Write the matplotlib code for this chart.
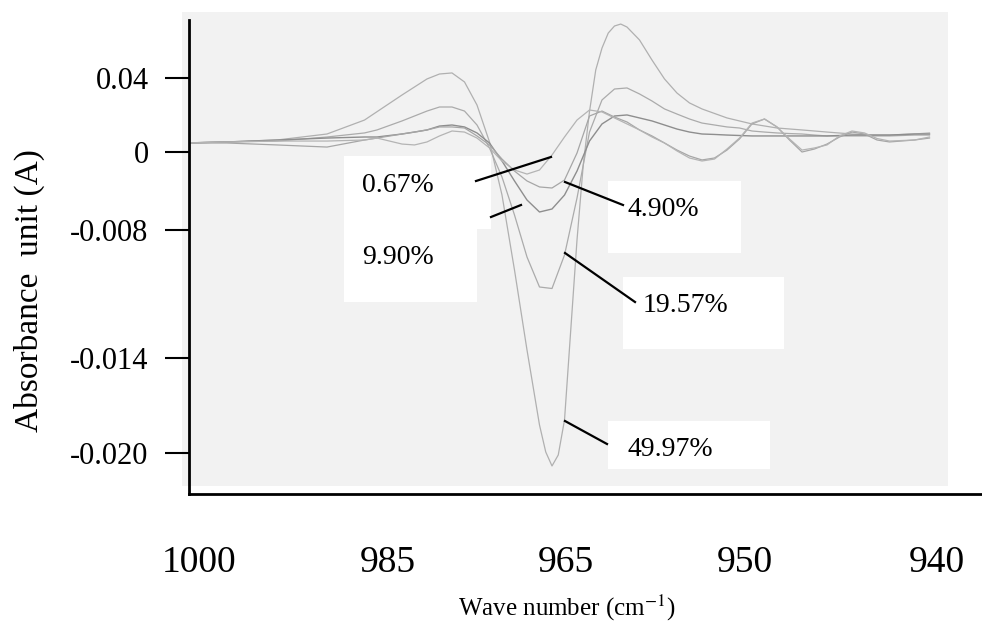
import numpy as np
import matplotlib.pyplot as plt
from matplotlib.patches import Rectangle
from matplotlib.lines import Line2D

plt.rcParams['font.family'] = 'Liberation Serif'
plt.rcParams['mathtext.fontset'] = 'stix'

# wave number (cm-1) for the 49.97% trace (denser around the big dip)
wn_big = [1001.5, 998, 994, 990, 987, 984, 982, 981, 980, 979, 978, 977, 976, 975,
          974, 973, 972.5, 972, 971.5, 971, 970.5, 970, 969.5, 969, 968.5, 968,
          967.5, 967, 966.5, 966, 965, 964, 963, 962, 961, 960, 958, 956, 954, 952,
          950, 948, 946.5, 945, 943, 941.8]
# absorbance, in 1e-3 A
a_4997 = [0.6, 0.67, 0.8, 1.2, 2.13, 3.8, 4.87, 5.2, 5.27, 4.67, 3.13, 0.67, -2.87, -7.87,
          -13.2, -18.2, -20.0, -20.93, -20.2, -17.87, -11.87, -5.87, -0.87, 2.7, 5.47, 6.93,
          7.93, 8.4, 8.53, 8.33, 7.47, 6.13, 4.87, 3.93, 3.27, 2.87, 2.27, 1.87, 1.6, 1.47,
          1.33, 1.2, 1.13, 1.13, 1.2, 1.27]

# common wave number grid for the other traces
wn = [1001.5, 998, 994, 990, 987, 986, 984, 983, 982, 981, 980, 979, 978, 977, 976, 975,
      974, 973, 972, 971, 970, 969, 968, 967, 966, 965, 964, 963, 962, 961, 960, 959,
      958, 957, 956, 955, 954, 953, 952, 951, 950, 949, 948, 947, 946, 945, 943, 941.8]
a_1957 = [0.6, 0.67, 0.73, 1.0, 1.27, 1.47, 2.07, 2.4, 2.73, 3.0, 3.0, 2.73, 1.8, 0.27,
          -1.67, -4.2, -7.0, -9.0, -9.1, -6.87, -3.07, 1.33, 3.47, 4.2, 4.27, 3.87, 3.4,
          2.87, 2.53, 2.2, 1.93, 1.8, 1.67, 1.6, 1.4, 1.33, 1.27, 1.23, 1.2, 1.13, 1.07,
          1.07, 1.07, 1.07, 1.07, 1.07, 1.13, 1.13]
a_990 = [0.6, 0.67, 0.8, 0.93, 1.0, 1.0, 1.2, 1.33, 1.47, 1.73, 1.8, 1.67, 1.27, 0.6,
         -0.6, -1.93, -3.2, -4.0, -3.8, -2.87, -1.27, 0.73, 1.87, 2.4, 2.47, 2.27, 2.07,
         1.8, 1.53, 1.33, 1.2, 1.17, 1.13, 1.1, 1.07, 1.07, 1.07, 1.07, 1.07, 1.07, 1.07,
         1.1, 1.13, 1.13, 1.13, 1.13, 1.2, 1.2]
a_490 = [0.6, 0.6, 0.47, 0.33, 0.8, 0.93, 1.2, 1.33, 1.47, 1.67, 1.67, 1.6, 1.07, 0.47,
         -0.47, -1.27, -1.93, -2.33, -2.4, -1.87, -0.07, 2.4, 2.73, 2.33, 2.0, 1.47, 1.07,
         0.6, 0.13, -0.27, -0.53, -0.4, 0.13, 0.87, 1.87, 2.2, 1.67, 0.8, 0.0, 0.2, 0.53,
         1.0, 1.33, 1.2, 0.8, 0.67, 0.8, 0.93]
a_067 = [0.6, 0.67, 0.73, 0.73, 0.8, 0.93, 0.53, 0.47, 0.67, 1.07, 1.4, 1.33, 0.93, 0.27,
         -0.6, -1.2, -1.47, -1.2, -0.2, 1.0, 2.13, 2.8, 2.67, 2.27, 1.87, 1.47, 1.0, 0.6,
         0.07, -0.4, -0.6, -0.47, 0.2, 0.93, 1.93, 2.2, 1.67, 0.87, 0.13, 0.27, 0.47, 1.07,
         1.4, 1.27, 0.9, 0.73, 0.8, 1.0]

xtick_labels = ['1000', '985', '965', '950', '940']
ytick_labels = ['0.04', '0', '-0.008', '-0.014', '-0.020']

W, H = 982, 637
fig = plt.figure(figsize=(W / 100, H / 100), dpi=100)

def fx(x):
    return x / W

def fy(y):
    return 1 - y / H

# scanned sheet behind the plot
fig.add_artist(Rectangle((fx(182), fy(486)), (948 - 182) / W, (486 - 12) / H,
                         transform=fig.transFigure, facecolor='#f2f2f2',
                         edgecolor='none', zorder=-1))

ax = fig.add_axes([fx(189), fy(494), (W - 189) / W, (494 - 20) / H])
ax.set_facecolor('none')

k = 1e-3
ax.plot(wn_big, np.array(a_4997) * k, color='#b0b0b0', lw=0.9)
ax.plot(wn, np.array(a_1957) * k, color='#ababab', lw=0.9)
ax.plot(wn, np.array(a_990) * k, color='#8e8e8e', lw=1.0)
ax.plot(wn, np.array(a_490) * k, color='#a6a6a6', lw=0.9)
ax.plot(wn, np.array(a_067) * k, color='#b4b4b4', lw=0.9)

ax.set_xlim(1001.04, 937.6)
ax.set_ylim(-0.0228, 0.0088)

ax.set_xticks([1000.2, 985.1, 970.9, 956.6, 941.2])
ax.set_xticklabels(xtick_labels)
ax.set_yticks([0.00493, 0, -0.0052, -0.01373, -0.02007])
ax.set_yticklabels(ytick_labels)
ax.tick_params(axis='x', length=0, pad=37, labelsize=27)
ax.tick_params(axis='y', direction='out', length=17, width=1.5, pad=12, labelsize=22)

for s in ['top', 'right']:
    ax.spines[s].set_visible(False)
for s in ['left', 'bottom']:
    ax.spines[s].set_linewidth(2)
    ax.spines[s].set_color('black')

fig.text(fx(29), fy(291), 'Absorbance  unit (A)', rotation=90, ha='center',
         va='center', fontsize=24)
fig.text(fx(567), fy(608), 'Wave number (cm$^{-1}$)', ha='center', va='center',
         fontsize=18)

# label boxes, texts and pointer lines
labels = ['0.67%', '9.90%', '4.90%', '19.57%', '49.97%']
boxes = [(344, 156, 491, 229), (344, 229, 477, 302), (608, 181, 741, 253),
         (623, 277, 784, 349), (608, 421, 770, 469)]
text_pos = [(362, 185), (362, 258), (628, 210), (643, 305), (628, 450)]
pointers = [((476, 181), (551, 157)), ((491, 217), (521, 205)),
            ((565, 182), (623, 205)), ((565, 253), (635, 302)),
            ((565, 421), (607, 444))]

for lab, (x0, y0, x1, y1), (tx, ty), (p0, p1) in zip(labels, boxes, text_pos, pointers):
    fig.add_artist(Rectangle((fx(x0), fy(y1)), (x1 - x0) / W, (y1 - y0) / H,
                             transform=fig.transFigure, facecolor='white',
                             edgecolor='none', zorder=5))
    fig.add_artist(Line2D([fx(p0[0]), fx(p1[0])], [fy(p0[1]), fy(p1[1])],
                          transform=fig.transFigure, color='black', lw=1.6, zorder=6))
    fig.text(fx(tx), fy(ty), lab, ha='left', va='center', fontsize=20, zorder=7)

fig.savefig('out.png', dpi=100)
